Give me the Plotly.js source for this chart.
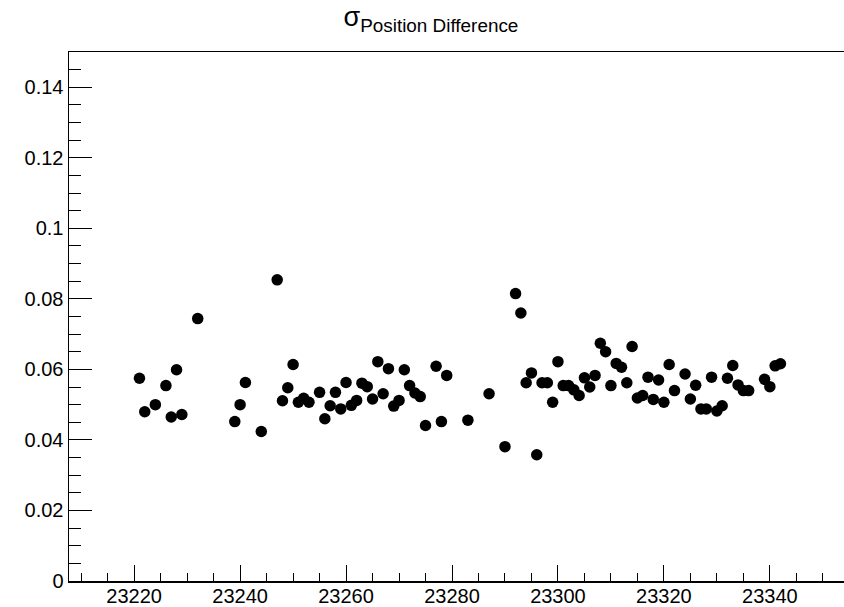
<!DOCTYPE html>
<html>
<head>
<meta charset="utf-8">
<script src="https://cdn.plot.ly/plotly-3.0.1.min.js"></script>
<style>html,body{margin:0;padding:0;background:#fff;}#chart{width:844px;height:607px;}</style>
</head>
<body>
<div id="chart"></div>
<script>
const runs = [23221, 23222, 23224, 23226, 23227, 23228, 23229, 23232, 23239, 23240,
  23241, 23244, 23247, 23248, 23249, 23250, 23251, 23252, 23253, 23255,
  23256, 23257, 23258, 23259, 23260, 23261, 23262, 23263, 23264, 23265,
  23266, 23267, 23268, 23269, 23270, 23271, 23272, 23273, 23274, 23275,
  23277, 23278, 23279, 23283, 23287, 23290, 23292, 23293, 23294, 23295,
  23296, 23297, 23298, 23299, 23300, 23301, 23302, 23303, 23304, 23305,
  23306, 23307, 23308, 23309, 23310, 23311, 23312, 23313, 23314, 23315,
  23316, 23317, 23318, 23319, 23320, 23321, 23322, 23324, 23325, 23326,
  23327, 23328, 23329, 23330, 23331, 23332, 23333, 23334, 23335, 23336,
  23339, 23340, 23341, 23342];
const sigmaPosDiff = [0.0575, 0.0480, 0.0500, 0.0554, 0.0465, 0.0599, 0.0472, 0.0744, 0.0452, 0.0500,
  0.0563, 0.0424, 0.0854, 0.0511, 0.0548, 0.0614, 0.0507, 0.0518, 0.0507, 0.0535,
  0.0460, 0.0497, 0.0535, 0.0488, 0.0563, 0.0498, 0.0512, 0.0561, 0.0551, 0.0516,
  0.0622, 0.0531, 0.0602, 0.0496, 0.0512, 0.0599, 0.0554, 0.0533, 0.0523, 0.0441,
  0.0609, 0.0452, 0.0583, 0.0456, 0.0531, 0.0381, 0.0815, 0.0760, 0.0562, 0.0590,
  0.0358, 0.0562, 0.0562, 0.0507, 0.0622, 0.0554, 0.0554, 0.0542, 0.0526, 0.0576,
  0.0550, 0.0583, 0.0674, 0.0650, 0.0554, 0.0617, 0.0606, 0.0562, 0.0665, 0.0519,
  0.0526, 0.0578, 0.0515, 0.0570, 0.0507, 0.0614, 0.0540, 0.0587, 0.0516, 0.0555,
  0.0488, 0.0488, 0.0578, 0.0482, 0.0497, 0.0575, 0.0611, 0.0556, 0.0540, 0.0540,
  0.0572, 0.0551, 0.0610, 0.0616];
const yTickVals = [0, 0.02, 0.04, 0.06, 0.08, 0.1, 0.12, 0.14];
const yTickText = ["0", "0.02", "0.04", "0.06", "0.08", "0.1", "0.12", "0.14"];
const xTickVals = [23220, 23240, 23260, 23280, 23300, 23320, 23340];
const xTickText = ["23220", "23240", "23260", "23280", "23300", "23320", "23340"];

const FONT = "Liberation Sans, Arial, Helvetica, sans-serif";

const trace = {
  x: runs, y: sigmaPosDiff,
  type: 'scatter', mode: 'markers',
  marker: {color: '#000000', size: 11.5, line: {width: 0}},
  hoverinfo: 'x+y'
};

const layout = {
  width: 844, height: 607,
  margin: {l: 69, r: 0, t: 52, b: 26, pad: 0},
  paper_bgcolor: '#ffffff', plot_bgcolor: '#ffffff',
  showlegend: false,
  font: {family: FONT, color: '#000000'},
  title: {
    text: 'σ<sub>Position Difference</sub>',
    font: {family: FONT, size: 27, color: '#000000'},
    x: 0.467, xref: 'paper', xanchor: 'center',
    y: 1 - 17/607, yref: 'container', yanchor: 'middle'
  },
  xaxis: {
    range: [23207.7, 23354],
    tickmode: 'array', tickvals: xTickVals, ticktext: xTickText,
    ticks: 'inside', ticklen: 16, tickwidth: 1, tickcolor: '#000000',
    minor: {tickmode: 'linear', tick0: 23200, dtick: 5, ticks: 'inside', ticklen: 8, tickwidth: 1, tickcolor: '#000000', showgrid: false},
    showgrid: false, zeroline: false,
    showline: true, linecolor: '#000000', linewidth: 1.5, mirror: true,
    ticklabelstandoff: -4,
    tickfont: {family: FONT, size: 20, color: '#000000'}
  },
  yaxis: {
    range: [0, 0.15],
    tickmode: 'array', tickvals: yTickVals, ticktext: yTickText,
    ticks: 'inside', ticklen: 23, tickwidth: 1, tickcolor: '#000000',
    minor: {tickmode: 'linear', tick0: 0, dtick: 0.005, ticks: 'inside', ticklen: 12, tickwidth: 1, tickcolor: '#000000', showgrid: false},
    showgrid: false, zeroline: false,
    showline: true, linecolor: '#000000', linewidth: 1.5, mirror: false,
    tickfont: {family: FONT, size: 20, color: '#000000'}
  }
};

Plotly.newPlot('chart', [trace], layout, {displayModeBar: false, staticPlot: true});
</script>
</body>
</html>
